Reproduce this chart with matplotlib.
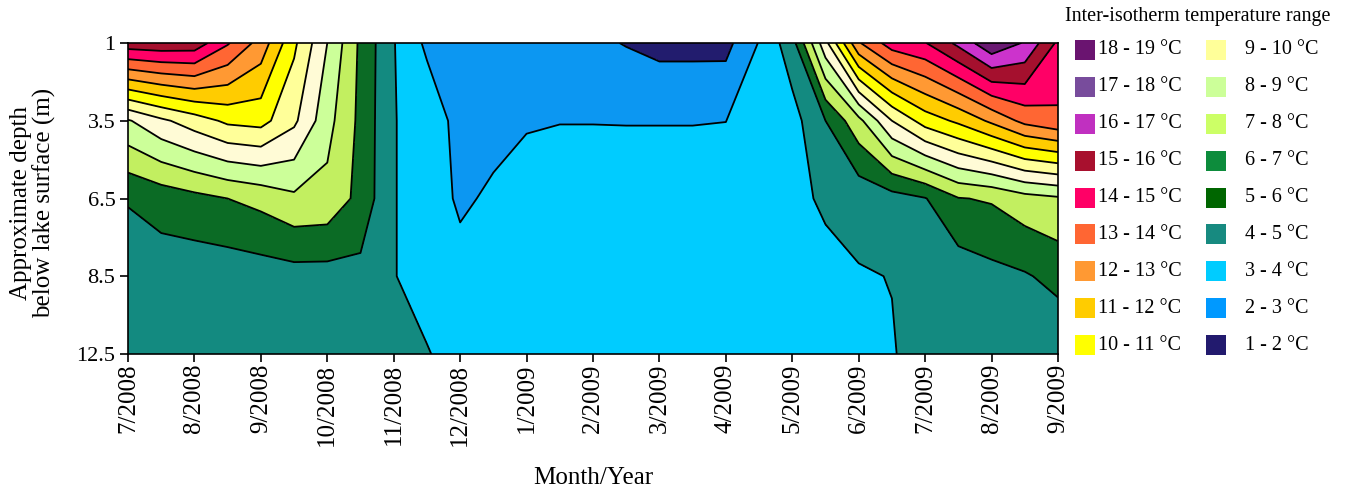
import numpy as np
import matplotlib
matplotlib.use("Agg")
import matplotlib.pyplot as plt
from matplotlib.patches import Rectangle

plt.rcParams['font.family'] = ['Liberation Serif', 'DejaVu Serif']

# ---- data -------------------------------------------------------------
month_labels = ['7/2008', '8/2008', '9/2008', '10/2008', '11/2008', '12/2008',
                '1/2009', '2/2009', '3/2009', '4/2009', '5/2009', '6/2009',
                '7/2009', '8/2009', '9/2009']
depth_labels = ['1', '3.5', '6.5', '8.5', '12.5']

# sampling dates, in months after 7/2008 (half-month steps)
sample_months = np.arange(0, 14.01, 0.5)

# water temperature (°C) at each sensor depth
temp_1m = [15.6, 15.7, 15.6, 14.1, 12.6, 10.2, 8.0, 5.8, 4.05, 2.8,
           2.6, 2.5, 2.4, 2.3, 2.2, 1.95, 1.7, 1.7, 1.7, 3.05,
           4.6, 8.7, 12.9, 14.5, 14.95, 16.25, 17.8, 16.9, 14.8]
temp_3_5m = [7.9, 8.8, 9.5, 10.2, 10.35, 9.2, 7.35, 5.75, 4.03, 3.7,
             2.6, 2.6, 2.9, 2.97, 2.97, 2.96, 2.96, 2.96, 2.99, 3.6,
             3.6, 5.0, 6.7, 9.0, 10.45, 11.2, 12.2, 13.3, 13.8]
temp_6_5m = [5.05, 5.4, 5.7, 6.0, 6.3, 6.8, 6.7, 5.7, 4.03, 3.7,
             2.8, 3.2, 3.5, 3.6, 3.6, 3.6, 3.6, 3.6, 3.6, 3.6,
             3.65, 4.2, 4.3, 4.6, 4.95, 5.95, 6.1, 6.6, 6.85]
temp_8_5m = [4.6, 4.5, 4.4, 4.4, 4.5, 4.6, 4.6, 4.7, 4.02, 3.8,
             3.45, 3.6, 3.6, 3.6, 3.6, 3.6, 3.6, 3.6, 3.6, 3.6,
             3.6, 3.6, 3.94, 4.02, 4.5, 4.4, 4.7, 4.9, 5.3]
temp_12_5m = [4.5, 4.5, 4.5, 4.5, 4.5, 4.5, 4.5, 4.5, 4.3, 4.03,
              3.8, 3.7, 3.7, 3.7, 3.7, 3.7, 3.7, 3.7, 3.7, 3.6,
              3.6, 3.6, 3.7, 3.95, 4.3, 4.2, 4.3, 4.4, 4.2]

# isotherms every 1 °C
isotherms = np.arange(1, 20)

# fill colour of each inter-isotherm band, 1-2 °C ... 18-19 °C
band_colors = ['#221c6e', '#0c97f2', '#00ccff', '#138a80', '#0b6b25',
               '#c2ef60', '#ccff99', '#fffbd6', '#ffff99', '#ffff00',
               '#ffcc00', '#ff9933', '#ff6633', '#ff0066', '#a5102e',
               '#cc33cc', '#6a1a72', '#660066']

# legend entries (two columns)
legend_left_labels = ['18 - 19 °C', '17 - 18 °C', '16 - 17 °C', '15 - 16 °C',
                      '14 - 15 °C', '13 - 14 °C', '12 - 13 °C', '11 - 12 °C',
                      '10 - 11 °C']
legend_left_colors = ['#6a1470', '#784c9c', '#c030c0', '#a8102e', '#ff0066',
                      '#ff6633', '#ff9933', '#ffcc00', '#ffff00']
legend_right_labels = ['9 - 10 °C', '8 - 9 °C', '7 - 8 °C', '6 - 7 °C',
                       '5 - 6 °C', '4 - 5 °C', '3 - 4 °C', '2 - 3 °C',
                       '1 - 2 °C']
legend_right_colors = ['#ffff99', '#ccff99', '#ccff66', '#0d8c3c', '#006600',
                       '#178a80', '#00ccff', '#0099ff', '#221a6e']

# ---- figure -----------------------------------------------------------
W, H = 1346, 495
fig = plt.figure(figsize=(W / 100, H / 100), dpi=100)
fig.patch.set_facecolor('white')


def fx(px):
    return px / W


def fy(py):
    return 1 - py / H


ax = fig.add_axes([fx(128), fy(354), fx(1058) - fx(128), fy(43) - fy(354)])

depth_index = np.arange(len(depth_labels))
temps = np.array([temp_1m, temp_3_5m, temp_6_5m, temp_8_5m, temp_12_5m])

ax.contourf(sample_months, depth_index, temps, levels=isotherms,
            colors=band_colors)
ax.contour(sample_months, depth_index, temps, levels=isotherms,
           colors='black', linewidths=1.3)

ax.set_xlim(0, len(month_labels) - 1)
ax.set_ylim(len(depth_labels) - 1, 0)

ax.set_xticks(np.arange(len(month_labels)))
ax.set_xticklabels(month_labels, rotation=90, fontsize=18)
ax.set_yticks(depth_index)
ax.set_yticklabels(depth_labels, fontsize=16)
ax.tick_params(direction='out', length=6, width=1.2, pad=3)
ax.tick_params(axis='x', pad=1)
for sp in ax.spines.values():
    sp.set_linewidth(1.2)

fig.text(fx(593), fy(478), 'Month/Year', ha='center', va='center',
         fontsize=18)
fig.text(fx(33), fy(203), 'Approximate depth\nbelow lake surface (m)',
         rotation=90, ha='center', va='center', fontsize=18,
         linespacing=1.0, multialignment='center')

# ---- legend -----------------------------------------------------------
fig.text(fx(1198), fy(17), 'Inter-isotherm temperature range',
         ha='center', va='center', fontsize=14.5)
row0, row_step = 50, 36.9
sw = 20
for i, (lab, col) in enumerate(zip(legend_left_labels, legend_left_colors)):
    yc = row0 + i * row_step
    fig.patches.append(Rectangle((fx(1075), fy(yc + sw / 2)), fx(sw), sw / H,
                                 transform=fig.transFigure,
                                 facecolor=col, edgecolor='none'))
    fig.text(fx(1098), fy(yc), lab, ha='left', va='center', fontsize=14.5)
for i, (lab, col) in enumerate(zip(legend_right_labels, legend_right_colors)):
    yc = row0 + i * row_step
    fig.patches.append(Rectangle((fx(1206), fy(yc + sw / 2)), fx(sw), sw / H,
                                 transform=fig.transFigure,
                                 facecolor=col, edgecolor='none'))
    fig.text(fx(1245), fy(yc), lab, ha='left', va='center', fontsize=14.5)

fig.savefig('out.png', dpi=100)
